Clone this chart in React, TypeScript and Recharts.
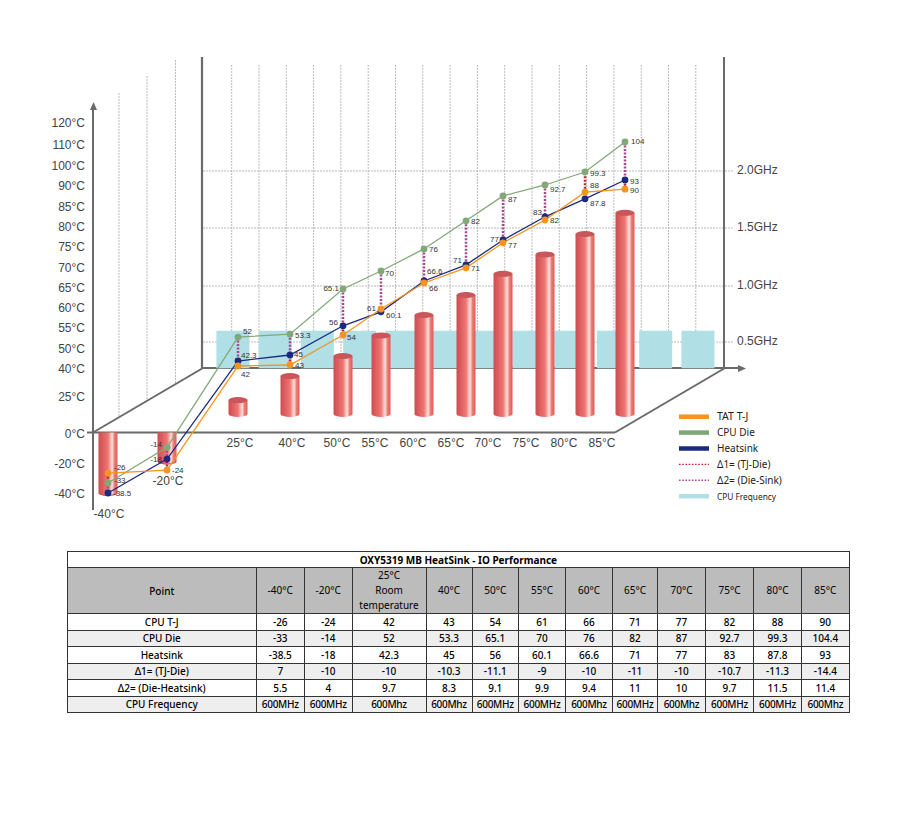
import React from 'react';
import {
  ComposedChart, Bar, Line, XAxis, YAxis, LabelList, ReferenceLine,
} from 'recharts';

const temps = [-40, -20, 25, 40, 50, 55, 60, 65, 70, 75, 80, 85];
const tempTicks = [-40, -20, 0, 25, 40, 50, 55, 60, 65, 70, 75, 80, 85, 90, 100, 110, 120];
const ghzTicks = [0.5, 1, 1.5, 2];

// heights as read against the left axis of the picture
const tjPlot = [-26.7, -24.7, 41, 41.5, 53.1, 59.5, 66, 69.8, 75.8, 81.5, 88.3, 89];
const diePlot = [-33.3, -9.7, 52.6, 53.3, 64.5, 69, 74.3, 81.3, 87.4, 90, 96.5, 110.9];
const sinkPlot = [-40, -17.4, 43.5, 46.5, 55.3, 58.8, 66.5, 70.5, 76.5, 82.3, 86.7, 92.5];
const cylinderTop = [-40, -19, 22.2, 35.7, 46, 53, 58, 63, 68.3, 73, 78, 83.3];
const frequencyGhz = [0.6, 0.6, 0.6, 0.6, 0.6, 0.6, 0.6, 0.6, 0.6, 0.6, 0.6, 0.6];

// numbers as printed in the table
const tjRow = ['-26', '-24', '42', '43', '54', '61', '66', '71', '77', '82', '88', '90'];
const dieRow = ['-33', '-14', '52', '53.3', '65.1', '70', '76', '82', '87', '92.7', '99.3', '104.4'];
const sinkRow = ['-38.5', '-18', '42.3', '45', '56', '60.1', '66.6', '71', '77', '83', '87.8', '93'];
const delta1Row = ['7', '-10', '-10', '-10.3', '-11.1', '-9', '-10', '-11', '-10', '-10.7', '-11.3', '-14.4'];
const delta2Row = ['5.5', '4', '9.7', '8.3', '9.1', '9.9', '9.4', '11', '10', '9.7', '11.5', '11.4'];
const freqRow = ['600MHz', '600MHz', '600Mhz', '600Mhz', '600MHz', '600MHz', '600Mhz', '600MHz', '600Mhz', '600MHz', '600MHz', '600Mhz'];
const headRow = ['-40°C', '-20°C', '25°C', '40°C', '50°C', '55°C', '60°C', '65°C', '70°C', '75°C', '80°C', '85°C'];
const dieLabels = dieRow.map((v) => (v === '104.4' ? '104' : v));

const FLOOR_TEMP = 12.7;
const FLOOR_GHZ = 0.27;

const rows = temps.map((temp, i) => ({
  temp,
  tj: tjPlot[i],
  die: diePlot[i],
  sink: sinkPlot[i],
  cylinder: temp < 0 ? [0, cylinderTop[i]] : [FLOOR_TEMP, cylinderTop[i]],
  freq: [FLOOR_GHZ, frequencyGhz[i]],
  tjLabel: tjRow[i],
  dieLabel: dieLabels[i],
  sinkLabel: sinkRow[i],
}));

// the axes of the picture are not linear, so the scales are piecewise over knots
function piecewise(inKnots: number[], outKnots: number[]) {
  const fn: any = (v: number) => {
    let k = 0;
    while (k < inKnots.length - 2 && v > inKnots[k + 1]) k++;
    const t = (v - inKnots[k]) / (inKnots[k + 1] - inKnots[k]);
    return outKnots[k] + t * (outKnots[k + 1] - outKnots[k]);
  };
  let dom = [inKnots[0], inKnots[inKnots.length - 1]];
  let ran = [outKnots[0], outKnots[outKnots.length - 1]];
  fn.domain = (d?: number[]) => { if (d) { dom = d; return fn; } return dom; };
  fn.range = (r?: number[]) => { if (r) { ran = r; return fn; } return ran; };
  fn.copy = () => piecewise(inKnots, outKnots);
  fn.ticks = () => inKnots;
  return fn;
}

const tempScale = piecewise(tempTicks, [493, 463, 432.5, 396, 368, 348, 327, 307, 287, 267, 246, 226, 206, 185, 165, 144, 122]);
const ghzScale = piecewise([0, 0.5, 1, 1.5, 2, 2.5], [399, 342, 286, 228, 171, 114]);
const markX = piecewise(temps, [108, 167, 238, 290, 343, 381, 424, 466, 503, 545, 585, 625]);
const planeX = piecewise(temps, [232.5, 274.8, 317, 359.3, 401.6, 443.9, 486.2, 528.4, 570.7, 613, 655.3, 697.5]);
const labelX = piecewise(temps, [109, 168, 240, 292, 337, 375, 413, 451, 488, 526, 564, 602]);

// label placement: [dx, dy], negative dx means the text ends left of the point
const tjOffsets = [[6, -6], [5, 0], [3, 8], [5, 0], [4, 2], [-5, -1], [5, 5], [5, 0], [5, 2], [5, 0], [5, -7], [5, 1]];
const dieOffsets = [[6, -3], [-5, -3], [5, -6], [5, 1], [-4, -1], [4, 2], [5, 0], [5, 0], [5, 3], [5, 4], [5, 1], [6, -1]];
const sinkOffsets = [[5, 0], [-5, 0], [3, -6], [4, -1], [-5, -4], [5, 3], [3, -10], [-4, -5], [-4, -1], [-3, -5], [5, 4], [5, 1]];

const INK = '#444';
const AXIS = '#6a6a6a';
const GRID = '#aaa';
const ORANGE = '#f7941e';
const GREEN = '#82a878';
const NAVY = '#1b2a7e';
const RED_DOT = '#c4202f';
const PURPLE_DOT = '#a6478f';
const BLUE = '#b0dfe6';
const FONT = '"Liberation Sans", Arial, sans-serif';
const TABLE_FONT = '"Noto Sans", sans-serif';

const pointLabel = (offsets: number[][]) => (props: any) => {
  const { x, y, value, index } = props;
  const [dx, dy] = offsets[index];
  return (
    <text x={x + dx} y={y + dy} dy={3} textAnchor={dx < 0 ? 'end' : 'start'} fontSize={8} fontFamily={FONT} fill="#333">
      {value}
    </text>
  );
};

const Cylinder = (props: any) => {
  const { x, y, width, height } = props;
  const top = Math.min(y, y + height);
  const h = Math.abs(height);
  const rx = width / 2;
  const ry = 3;
  const negative = props.payload.temp < 0;
  return (
    <g>
      <path
        d={`M${x},${top} L${x},${top + h} A${rx},${ry} 0 0 0 ${x + width},${top + h} L${x + width},${top} Z`}
        fill="url(#cyl)"
      />
      {negative ? (
        <path d={`M${x},${top + h - 1} A${rx},${ry} 0 0 0 ${x + width},${top + h - 1} L${x + width},${top + h} A${rx},${ry} 0 0 1 ${x},${top + h} Z`} fill="#c8565a" />
      ) : (
        <ellipse cx={x + rx} cy={top} rx={rx} ry={ry} fill="#c8565a" />
      )}
    </g>
  );
};

const TempTick = (props: any) => {
  const { x, payload } = props;
  const v = payload.value;
  const y = v === -40 ? 518 : v === -20 ? 485 : 447;
  return (
    <text x={x} y={y} textAnchor="middle" fontSize={12} fontFamily={FONT} fill={INK}>
      {`${v}°C`}
    </text>
  );
};

const verticals = Array.from({ length: 18 }, (_, i) => 231.7 + 27.3 * i);
const sideVerticals = [[119, 93, 417], [147, 76, 401], [175.5, 60, 384]];
const wallRows = [0.5, 1, 1.5, 2];

function WallGrid() {
  return (
    <g>
      {verticals.map((x) => (
        <line key={x} x1={x} x2={x} y1={65} y2={368} stroke={GRID} strokeWidth={0.8} strokeDasharray="2 1" />
      ))}
      {wallRows.map((g) => (
        <line key={g} x1={203} x2={733} y1={ghzScale(g)} y2={ghzScale(g)} stroke={GRID} strokeWidth={0.8} strokeDasharray="2 1" />
      ))}
      {sideVerticals.map(([x, y1, y2]) => (
        <line key={x} x1={x} x2={x} y1={y1} y2={y2} stroke={GRID} strokeWidth={0.8} strokeDasharray="2 1" />
      ))}
      <line x1={202} x2={202} y1={57} y2={368} stroke={AXIS} strokeWidth={2.2} />
      <line x1={724} x2={724} y1={57} y2={368} stroke={AXIS} strokeWidth={2} />
      <line x1={202} x2={740} y1={368} y2={368} stroke={AXIS} strokeWidth={2} />
      <polygon points="738,365 746,368.5 738,372" fill={AXIS} />
      <line x1={93} x2={203} y1={432.5} y2={368} stroke={AXIS} strokeWidth={2} />
      <line x1={615} x2={725} y1={432.5} y2={368} stroke={AXIS} strokeWidth={2} />
      <line x1={87} x2={615} y1={432.5} y2={432.5} stroke={AXIS} strokeWidth={2} />
      <polygon points="90,110 93.5,102 97,110" fill={AXIS} />
    </g>
  );
}

const legendItems = [
  { name: 'TAT T-J', color: ORANGE, kind: 'solid', size: 10.5 },
  { name: 'CPU Die', color: '#7da776', kind: 'solid', size: 10 },
  { name: 'Heatsink', color: NAVY, kind: 'solid', size: 10 },
  { name: 'Δ1= (TJ-Die)', color: RED_DOT, kind: 'dot', size: 10 },
  { name: 'Δ2= (Die-Sink)', color: PURPLE_DOT, kind: 'dot', size: 10 },
  { name: 'CPU Frequency', color: BLUE, kind: 'solid', size: 8.3 },
];

function ChartLegend() {
  return (
    <g>
      {legendItems.map((item, i) => {
        const y = 416.7 + i * 15.9;
        return (
          <g key={item.name}>
            <line
              x1={679} x2={709} y1={y} y2={y}
              stroke={item.color}
              strokeWidth={item.kind === 'dot' ? 1.4 : 4.5}
              strokeDasharray={item.kind === 'dot' ? '1.6 1.6' : undefined}
            />
            <text x={717} y={y + 3.5} fontSize={item.size} fontFamily={TABLE_FONT} fill="#222">{item.name}</text>
          </g>
        );
      })}
    </g>
  );
}

const tableRows = [
  { name: 'CPU T-J', cells: tjRow },
  { name: 'CPU Die', cells: dieRow },
  { name: 'Heatsink', cells: sinkRow },
  { name: 'Δ1= (TJ-Die)', cells: delta1Row },
  { name: 'Δ2= (Die-Heatsink)', cells: delta2Row },
  { name: 'CPU Frequency', cells: freqRow },
];
const colWidths = [188.5, 48.5, 47.5, 74, 46, 46.5, 47, 47, 45, 48, 48, 48, 47.5];

function PerfTable() {
  const cell: React.CSSProperties = {
    border: '1px solid #333', padding: 0, textAlign: 'center', fontWeight: 500, whiteSpace: 'nowrap', overflow: 'hidden',
  };
  return (
    <table style={{
      position: 'absolute', left: 67, top: 551, width: 781.5, tableLayout: 'fixed', borderCollapse: 'collapse',
      fontFamily: TABLE_FONT, fontSize: 10, lineHeight: '12px', color: '#000',
    }}>
      <colgroup>{colWidths.map((w, i) => <col key={i} style={{ width: w }} />)}</colgroup>
      <tbody>
        <tr style={{ height: 16 }}>
          <td colSpan={13} style={{ ...cell, fontWeight: 700 }}>OXY5319 MB HeatSink - IO Performance</td>
        </tr>
        <tr style={{ height: 44.5, background: '#bcbcbc' }}>
          <td style={cell}>Point</td>
          {headRow.map((h, i) => (
            <td key={h} style={{ ...cell, fontWeight: 400, whiteSpace: 'normal', lineHeight: '15px' }}>
              {i === 2 ? <>25°C<br />Room<br />temperature</> : h}
            </td>
          ))}
        </tr>
        {tableRows.map((r, i) => (
          <tr key={r.name} style={{ height: 16.5, background: i % 2 === 1 ? '#eeeeee' : '#fff' }}>
            <td style={cell}>{r.name}</td>
            {r.cells.map((c, j) => (
              <td key={j} style={{ ...cell, letterSpacing: i === 5 ? -0.3 : 0 }}>{c}</td>
            ))}
          </tr>
        ))}
      </tbody>
    </table>
  );
}

const deltaLine = (i: number, key: string, from: number, to: number, color: string) => (
  <ReferenceLine
    key={key}
    xAxisId="marks"
    yAxisId="temp"
    ifOverflow="visible"
    segment={[{ x: temps[i], y: from }, { x: temps[i], y: to }]}
    stroke={color}
    strokeWidth={2.5}
    strokeDasharray="2 1.5"
  />
);

// the red dots only show where purple does not run over them
const showsRedToDie = (i: number) => tjPlot[i] > diePlot[i] || temps[i] === 80;

export default function App() {
  return (
    <div style={{ position: 'absolute', left: 0, top: 0, width: 900, height: 831, background: '#fff' }}>
      <ComposedChart
        width={900}
        height={540}
        data={rows}
        margin={{ top: 105, right: 0, bottom: 29, left: 0 }}
      >
        <defs>
          <linearGradient id="cyl" x1="0" x2="1" y1="0" y2="0">
            <stop offset="0%" stopColor="#cf4b50" />
            <stop offset="50%" stopColor="#ee7672" />
            <stop offset="72%" stopColor="#fde0da" />
            <stop offset="84%" stopColor="#ee7d78" />
            <stop offset="100%" stopColor="#dc5a58" />
          </linearGradient>
        </defs>
        <XAxis xAxisId="marks" dataKey="temp" type="number" scale={markX} domain={[-40, 85]} hide />
        <XAxis xAxisId="plane" dataKey="temp" type="number" scale={planeX} domain={[-40, 85]} hide />
        <XAxis
          xAxisId="labels"
          dataKey="temp"
          type="number"
          scale={labelX}
          domain={[-40, 85]}
          ticks={temps}
          interval={0}
          height={1}
          axisLine={false}
          tickLine={false}
          tick={<TempTick />}
        />
        <YAxis
          yAxisId="temp"
          type="number"
          scale={tempScale}
          domain={[-40, 120]}
          ticks={tempTicks}
          interval={0}
          width={93}
          axisLine={{ stroke: AXIS, strokeWidth: 2 }}
          tickLine={false}
          tickSize={0}
          tickMargin={8}
          tick={{ fill: INK, fontSize: 12, fontFamily: FONT, dy: 1 }}
          tickFormatter={(v) => `${v}°C`}
        />
        <YAxis
          yAxisId="ghz"
          orientation="right"
          type="number"
          scale={ghzScale}
          domain={[0, 2.5]}
          ticks={ghzTicks}
          interval={0}
          width={176}
          axisLine={false}
          tickLine={false}
          tickSize={0}
          tickMargin={13}
          tick={{ fill: INK, fontSize: 12, fontFamily: FONT, dy: -1 }}
          tickFormatter={(v) => `${v.toFixed(1)}GHz`}
        />
        <Bar xAxisId="plane" yAxisId="ghz" dataKey="freq" fill={BLUE} barSize={33} isAnimationActive={false} />
        <WallGrid />
        <Bar xAxisId="marks" yAxisId="temp" dataKey="cylinder" barSize={19} shape={<Cylinder />} isAnimationActive={false} />
        {temps.map((t, i) => deltaLine(i, `d1-${t}`, tjPlot[i], showsRedToDie(i) ? diePlot[i] : sinkPlot[i], RED_DOT))}
        {temps.map((t, i) => deltaLine(i, `d2-${t}`, temps[i] === 80 ? tjPlot[i] : diePlot[i], sinkPlot[i], PURPLE_DOT))}
        <Line xAxisId="marks" yAxisId="temp" dataKey="die" stroke={GREEN} strokeWidth={1.3} dot={{ r: 3.4, fill: GREEN, strokeWidth: 0 }} isAnimationActive={false}>
          <LabelList dataKey="dieLabel" content={pointLabel(dieOffsets)} />
        </Line>
        <Line xAxisId="marks" yAxisId="temp" dataKey="sink" stroke={NAVY} strokeWidth={1.3} dot={{ r: 3.4, fill: NAVY, strokeWidth: 0 }} isAnimationActive={false}>
          <LabelList dataKey="sinkLabel" content={pointLabel(sinkOffsets)} />
        </Line>
        <Line xAxisId="marks" yAxisId="temp" dataKey="tj" stroke={ORANGE} strokeWidth={1.3} dot={{ r: 3.4, fill: ORANGE, strokeWidth: 0 }} isAnimationActive={false}>
          <LabelList dataKey="tjLabel" content={pointLabel(tjOffsets)} />
        </Line>
        <ChartLegend />
      </ComposedChart>
      <PerfTable />
    </div>
  );
}
